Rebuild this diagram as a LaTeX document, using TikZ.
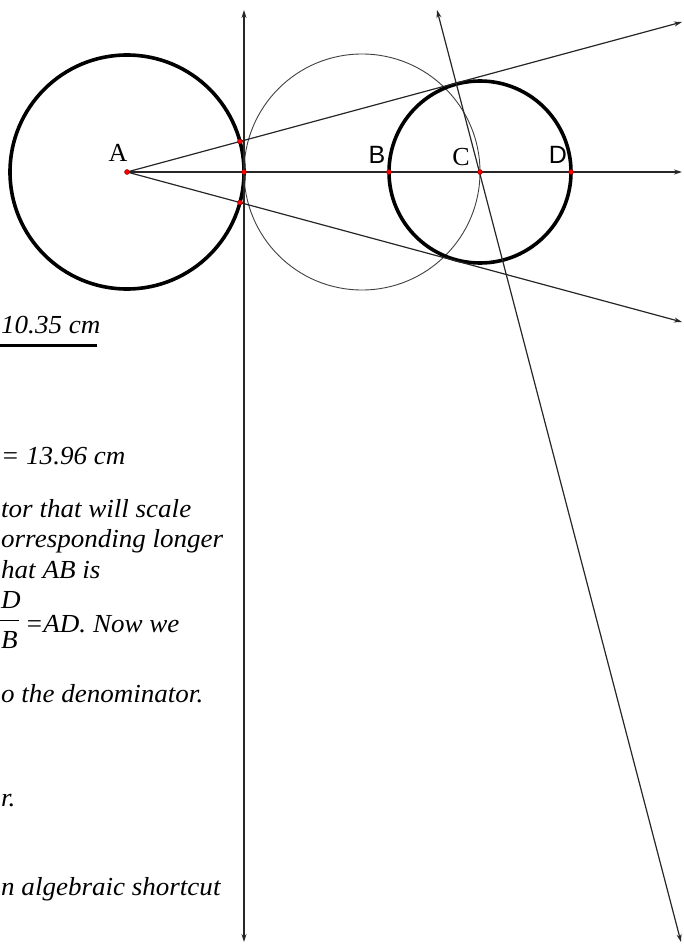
\documentclass[tikz,border=0pt]{standalone}
\usepackage{fontspec}
\setmainfont{Liberation Serif}
\newfontfamily\sansf{Liberation Sans}
\newfontfamily\txtf[FakeStretch=1.04]{Liberation Serif}
\usetikzlibrary{arrows.meta}
\begin{document}
\begin{tikzpicture}[x=1pt,y=-1pt,
  ln/.style={line width=1.2pt, draw=black!85},
  arr/.style={-{Stealth[length=8pt,width=5pt]}},
  darr/.style={{Stealth[length=8pt,width=5pt]}-{Stealth[length=8pt,width=5pt]}},
  thickcirc/.style={line width=3.6pt, draw=black},
  thincirc/.style={line width=0.9pt, draw=black!75},
  dot/.style={circle, fill=red, draw=red!50!black, line width=0.4pt, inner sep=0pt, minimum size=5pt},
  txt/.style={font=\fontsize{26}{30}\txtf\itshape, anchor=base west, inner sep=0pt},
  lbl/.style={font=\fontsize{26}{30}\selectfont, inner sep=0pt},
  slbl/.style={font=\fontsize{25}{30}\selectfont\sansf, inner sep=0pt}]
\useasboundingbox (0,0) rectangle (683,947);
% key points
\coordinate (A) at (127,172);
\coordinate (T) at (244,172);
\coordinate (B) at (389,172);
\coordinate (C) at (480,172);
\coordinate (D) at (571,172);
\coordinate (M) at (362,172);
\coordinate (U) at (240,141.5);
\coordinate (L) at (240,202.5);
\coordinate (Uend) at (682,22);
\coordinate (Lend) at (682,322);
\coordinate (Hend) at (682,172);
\coordinate (Vtop) at (244,10);
\coordinate (Vbot) at (244,942);
\coordinate (Stop) at (437,10);
\coordinate (Sbot) at (681,942);
% circles
\draw[thickcirc] (A) circle[radius=117pt];
\draw[thincirc] (M) circle[radius=118pt];
\draw[thickcirc] (C) circle[radius=91pt];
% lines
\draw[ln,arr] (A) -- (Hend);
\draw[ln,arr] (A) -- (Uend);
\draw[ln,arr] (A) -- (Lend);
\draw[ln,darr] (Vbot) -- (Vtop);
\draw[ln,darr] (Sbot) -- (Stop);
% dots
\foreach \p in {A,T,U,L,B,C,D} \node[dot] (dot\p) at (\p) {};
% labels
\node[lbl] (labA) at (118,153) {A};
\node[slbl] (labB) at (377,155) {B};
\node[lbl] (labC) at (461,157) {C};
\node[slbl] (labD) at (558,155) {D};
% text
\node[txt] (t1) at (1,333) {10.35 cm};
\draw[line width=3pt] (0,345) -- (97,345);
\node[txt] (t2) at (1,464) {= 13.96 cm};
\node[txt] (t3) at (1,517) {tor that will scale};
\node[txt] (t4) at (1,547) {orresponding longer};
\node[txt] (t5) at (1,578) {hat AB is};
\node[txt] (fD) at (1,608) {D};
\draw[line width=1pt] (0,620) -- (19,620);
\node[txt] (fB) at (1,648) {B};
\node[txt] (t6) at (25,632) {=AD. Now we};
\node[txt] (t7) at (1,702) {o the denominator.};
\node[txt] (t8) at (1,806) {r.};
\node[txt] (t9) at (1,895) {n algebraic shortcut};
\end{tikzpicture}
\end{document}
